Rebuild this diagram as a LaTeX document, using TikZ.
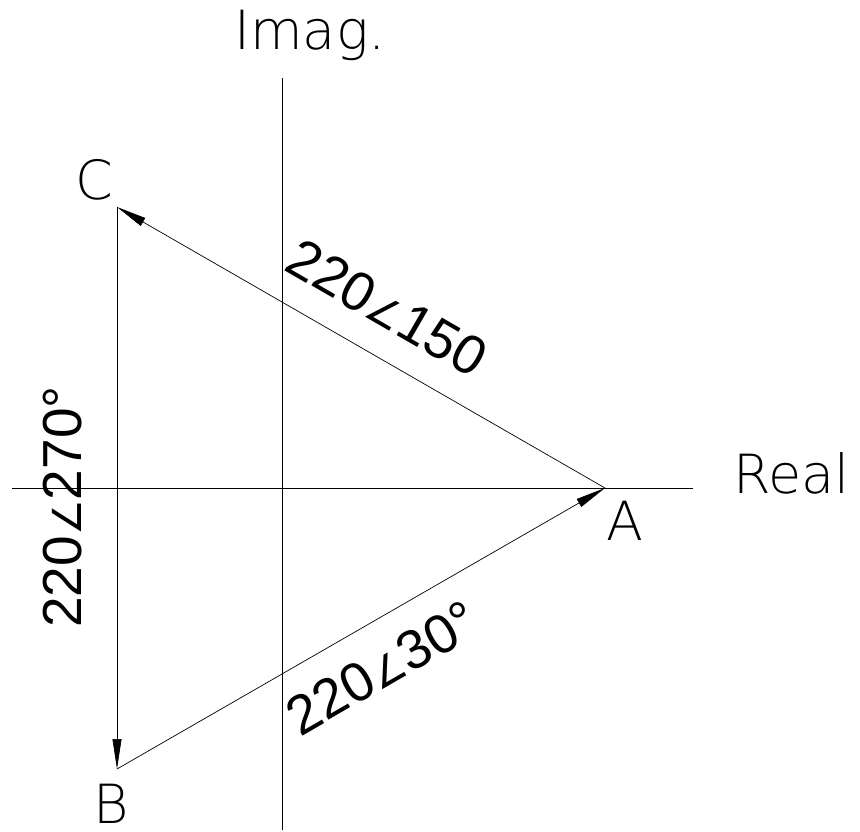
\documentclass[tikz,border=0pt]{standalone}
\usepackage{fontspec}
\usepackage{tikz}
\usetikzlibrary{arrows.meta}
\setmainfont{Liberation Sans}
\newfontfamily\thinfont{DejaVu Sans ExtraLight}
\newfontfamily\anglefont{DejaVu Sans}
\newcommand{\phangle}{{\anglefont\fontsize{40}{40}\selectfont ∠}}

\tikzset{
  axis/.style={line width=0.9pt},
  phasor/.style={line width=0.7pt, -{Triangle[length=30pt,width=9pt]}},
  axislabel/.style={font=\thinfont\fontsize{54}{60}\selectfont, inner sep=0pt},
  vallabel/.style={font=\fontsize{55}{60}\selectfont, inner sep=0pt},
}

\begin{document}
\begin{tikzpicture}[x=1pt,y=-1pt]
	\useasboundingbox (0,0) rectangle (860,831);
	% axes
	\coordinate (imagtop) at (282,78);
	\coordinate (imagbot) at (282,830);
	\coordinate (realleft) at (12,488);
	\coordinate (realright) at (693,488);
	\draw[axis] (imagtop) -- (imagbot);
	\draw[axis] (realleft) -- (realright);
	\node[axislabel, anchor=base] (imag) at (310,49) {Imag.};
	\node[axislabel, anchor=base west] (real) at (733,493) {Real};
	% vertices
	\coordinate (A) at (605,488);
	\coordinate (B) at (117,769);
	\coordinate (C) at (117,207);
	\node[axislabel, anchor=base] (labA) at (625,540) {A};
	\node[axislabel, anchor=base] (labB) at (111,823) {B};
	\node[axislabel, anchor=base] (labC) at (94,199) {C};
	% phasors
	\draw[phasor] (A) -- (C);
	\draw[phasor] (C) -- (B);
	\draw[phasor] (B) -- (A);
	\node[vallabel, rotate=-30] (vCA) at (387,308) {220\phangle150};
	\node[vallabel, rotate=90] (vCB) at (63,507) {220\phangle270°};
	\node[vallabel, rotate=30] (vBA) at (382,668) {220\phangle30°};
\end{tikzpicture}
\end{document}
